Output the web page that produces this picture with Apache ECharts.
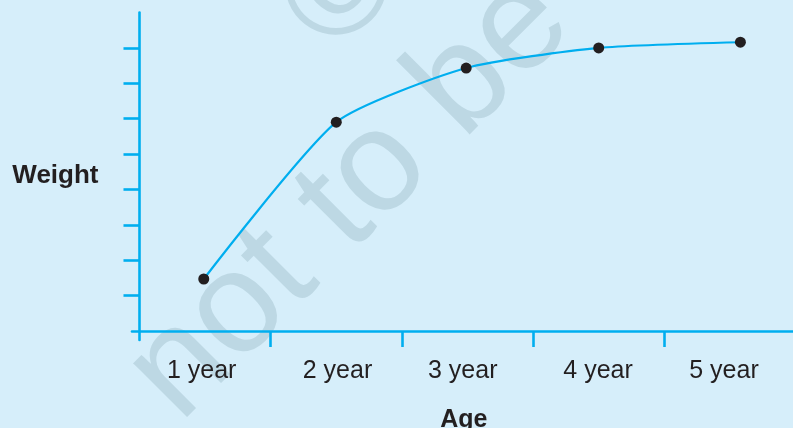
<!DOCTYPE html>
<html>
<head>
<meta charset="utf-8">
<script src="https://cdn.jsdelivr.net/npm/echarts@6/dist/echarts.min.js"></script>
<style>
html,body{margin:0;padding:0;background:#d6eefa;}
#c{width:793px;height:428px;}
</style>
</head>
<body>
<div id="c"></div>
<script>
// ---- data ----
const categories = ['1 year', '2 year', '3 year', '4 year', '5 year'];
const pointX = [0.49, 1.5, 2.49, 3.5, 4.58];
const weight = [1.47, 5.9, 7.43, 8.0, 8.16];
const yTickValues = [1, 2, 3, 4, 5, 6, 7, 8];
const xTickValues = [1, 2, 3, 4];
const xLabelValues = [0.474, 1.509, 2.464, 3.495, 4.455];
const watermarkLines = ['not to be republished', '\u00A9 NCERT'];

const FONT = '"Liberation Sans", Arial, Helvetica, sans-serif';
const BLUE = '#00aeef';
const INK = '#231f20';
const WM = '#bdd8e4';

const chart = echarts.init(document.getElementById('c'), null, {renderer: 'canvas'});
chart.setOption({
  backgroundColor: '#d6eefa',
  animation: false,
  graphic: [
    {type: 'text', x: 152, y: 396, rotation: Math.PI / 4, z: -10, silent: true,
     style: {text: watermarkLines[0], font: '144px ' + FONT, fill: WM, align: 'left', verticalAlign: 'middle'}},
    {type: 'text', x: 305.5, y: 28.5, rotation: Math.PI / 4, z: -10, silent: true,
     style: {text: watermarkLines[1], font: '144px ' + FONT, fill: WM, align: 'left', verticalAlign: 'middle'}}
  ],
  grid: {left: 132, right: -2.5, top: 12.5, bottom: 88, containLabel: false, outerBoundsMode: 'none'},
  xAxis: {
    type: 'value', min: -0.057, max: 5,
    name: 'Age', nameLocation: 'middle', nameGap: 68,
    nameTextStyle: {fontFamily: FONT, fontSize: 25, fontWeight: 'bold', color: INK},
    axisLine: {show: true, onZero: true, lineStyle: {color: BLUE, width: 2.6}},
    axisTick: {show: true, customValues: xTickValues, length: 16, inside: false, lineStyle: {color: BLUE, width: 2.6}},
    axisLabel: {show: true, customValues: xLabelValues, margin: 19, fontFamily: FONT, fontSize: 25, color: INK,
      formatter: v => categories[Math.floor(v)]},
    splitLine: {show: false}
  },
  yAxis: {
    type: 'value', min: -0.254, max: 9,
    name: 'Weight', nameLocation: 'middle', nameRotate: 0, nameGap: 33.5,
    nameTextStyle: {fontFamily: FONT, fontSize: 26, fontWeight: 'bold', color: INK, padding: [8, 0, 0, 0]},
    axisLine: {show: true, onZero: true, lineStyle: {color: BLUE, width: 2.6}},
    axisTick: {show: true, customValues: yTickValues, length: 16, inside: false, lineStyle: {color: BLUE, width: 2.6}},
    axisLabel: {show: false},
    splitLine: {show: false}
  },
  series: [{
    type: 'line',
    data: pointX.map((x, i) => [x, weight[i]]),
    smooth: 0.2,
    symbol: 'circle', symbolSize: 11,
    lineStyle: {color: BLUE, width: 2.2},
    itemStyle: {color: INK, borderWidth: 0},
    z: 3
  }]
});
</script>
</body>
</html>
